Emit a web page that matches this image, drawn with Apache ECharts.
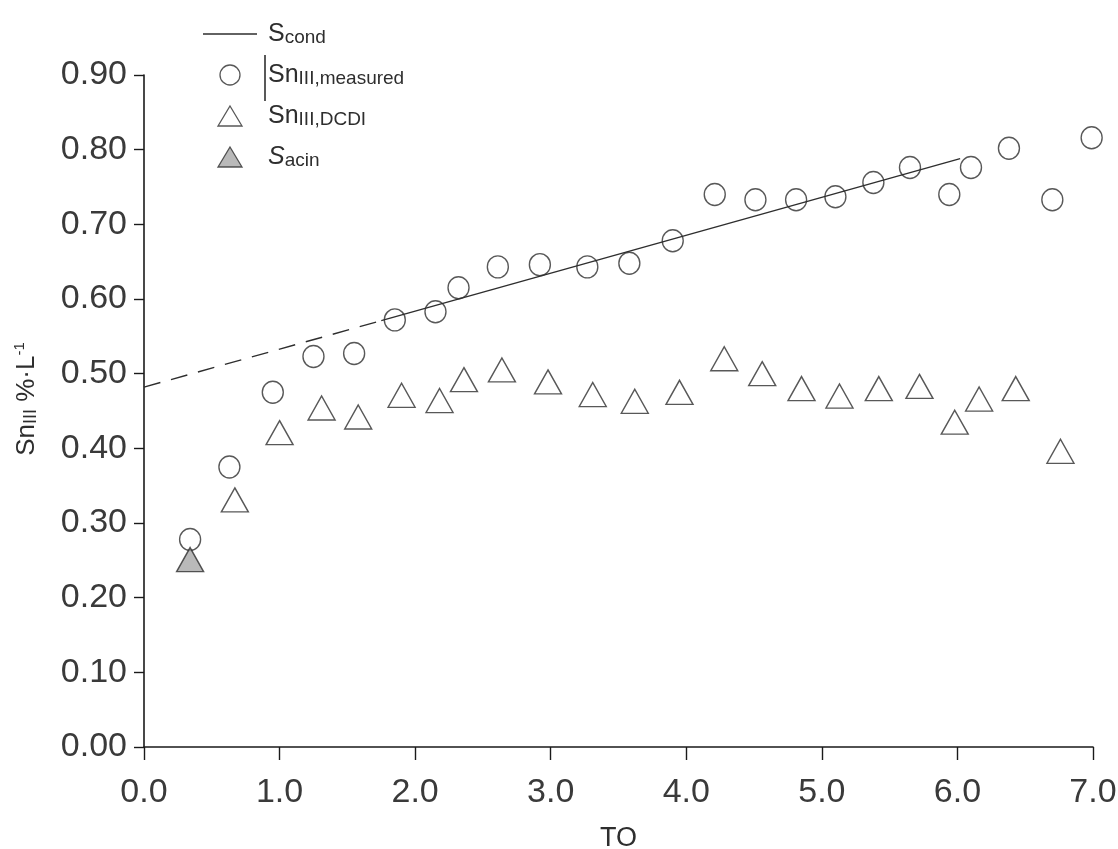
<!DOCTYPE html>
<html>
<head>
<meta charset="utf-8">
<script src="https://cdn.jsdelivr.net/npm/echarts@6/dist/echarts.min.js"></script>
<style>
html,body{margin:0;padding:0;background:#fff;}
#chart{width:1118px;height:849px;}
</style>
</head>
<body>
<div id="chart"></div>
<script>
// ---- data ----
const measuredX = [0.34,0.63,0.95,1.25,1.55,1.85,2.15,2.32,2.61,2.92,3.27,3.58,3.90,4.21,4.51,4.81,5.10,5.38,5.65,5.94,6.10,6.38,6.70,6.99];
const measuredY = [0.278,0.375,0.475,0.523,0.527,0.572,0.583,0.615,0.643,0.646,0.643,0.648,0.678,0.740,0.733,0.733,0.737,0.756,0.776,0.740,0.776,0.802,0.733,0.816];
const dcdiX = [0.67,1.00,1.31,1.58,1.90,2.18,2.36,2.64,2.98,3.31,3.62,3.95,4.28,4.56,4.85,5.13,5.42,5.72,5.98,6.16,6.43,6.76];
const dcdiY = [0.331,0.421,0.454,0.442,0.471,0.464,0.492,0.505,0.489,0.472,0.463,0.475,0.520,0.500,0.480,0.470,0.480,0.483,0.435,0.466,0.480,0.396];
const acinX = [0.34];
const acinY = [0.251];
const condX = [1.75, 6.02];
const condY = [0.571, 0.788];
const condExtX = [0.0, 1.75];
const condExtY = [0.482, 0.571];
const xTickLabels = ['0.0','1.0','2.0','3.0','4.0','5.0','6.0','7.0'];
const yTickLabels = ['0.00','0.10','0.20','0.30','0.40','0.50','0.60','0.70','0.80','0.90'];

const pair = (xs, ys) => xs.map((x, i) => [x, ys[i]]);
const FONT = "'Liberation Sans', Arial, Helvetica, sans-serif";
const INK = '#2e2e2e';

const legendNames = {
  'Scond': '{b|S}{s|cond}',
  'SnIII,measured': '{b|Sn}{s|III,measured}',
  'SnIII,DCDI': '{b|Sn}{s|III,DCDI}',
  'Sacin': '{i|S}{s|acin}'
};
const TRI_ICON = 'path://M12,0L24,20L0,20Z';

const chart = echarts.init(document.getElementById('chart'), null, {renderer: 'canvas'});
chart.setOption({
  backgroundColor: '#ffffff',
  animation: false,
  textStyle: {fontFamily: FONT},
  grid: {left: 144, right: 25, top: 75, bottom: 102, containLabel: false, outerBoundsMode: 'none'},
  legend: {
    left: 198, top: 17, orient: 'vertical',
    itemWidth: 54, itemHeight: 20, itemGap: 16,
    selectedMode: false,
    symbolKeepAspect: true,
    data: [
      {name: 'Scond', icon: 'path://M0,0L54,0L54,1.5L0,1.5Z'},
      {name: 'SnIII,measured', icon: 'circle'},
      {name: 'SnIII,DCDI', icon: TRI_ICON},
      {name: 'Sacin', icon: TRI_ICON}
    ],
    itemStyle: {borderWidth: 1.3},
    formatter: n => legendNames[n],
    textStyle: {
      fontFamily: FONT, color: INK,
      rich: {
        b: {fontSize: 25, color: INK, fontFamily: FONT, verticalAlign: 'bottom', lineHeight: 26, padding: [0,0,0,6]},
        i: {fontSize: 25, color: INK, fontFamily: FONT, fontStyle: 'italic', verticalAlign: 'bottom', lineHeight: 26, padding: [0,0,0,6]},
        s: {fontSize: 19, color: INK, fontFamily: FONT, verticalAlign: 'bottom', lineHeight: 26}
      }
    }
  },
  xAxis: {
    type: 'value', min: 0, max: 7, interval: 1,
    name: 'TO', nameLocation: 'middle', nameGap: 78,
    nameTextStyle: {fontSize: 27, color: INK, fontFamily: FONT},
    axisLine: {show: true, lineStyle: {color: '#1a1a1a', width: 1.6}},
    axisTick: {show: true, inside: false, length: 13, lineStyle: {color: '#1a1a1a', width: 1.4}},
    axisLabel: {fontSize: 34, color: '#3a3a3a', margin: 29, fontFamily: FONT,
      formatter: v => xTickLabels[Math.round(v)]},
    splitLine: {show: false}
  },
  yAxis: {
    type: 'value', min: 0, max: 0.9, interval: 0.1,
    name: '{a|Sn}{b|III}{a| %·L}{c|-1}', nameLocation: 'middle', nameGap: 104, nameRotate: 90,
    nameTextStyle: {
      color: INK, fontFamily: FONT, padding: [0, 0, 0, 24],
      rich: {
        a: {fontSize: 26, color: INK, fontFamily: FONT, verticalAlign: 'bottom', lineHeight: 28},
        b: {fontSize: 18, color: INK, fontFamily: FONT, verticalAlign: 'bottom', lineHeight: 28},
        c: {fontSize: 15, color: INK, fontFamily: FONT, verticalAlign: 'top', lineHeight: 28}
      }
    },
    axisLine: {show: true, lineStyle: {color: '#1a1a1a', width: 1.6}},
    axisTick: {show: true, inside: false, length: 10, lineStyle: {color: '#1a1a1a', width: 1.4}},
    axisLabel: {fontSize: 34, color: '#3a3a3a', margin: 17, fontFamily: FONT,
      formatter: v => yTickLabels[Math.round(v * 10)]},
    splitLine: {show: false}
  },
  series: [
    {
      name: 'Scond_ext', type: 'line', data: pair(condExtX, condExtY),
      symbol: 'none', silent: true,
      lineStyle: {color: INK, width: 1.4, type: [17, 11]}
    },
    {
      name: 'Scond', type: 'line', data: pair(condX, condY),
      symbol: 'none', silent: true,
      lineStyle: {color: INK, width: 1.4, type: 'solid'},
      itemStyle: {color: INK}
    },
    {
      name: 'SnIII,measured', type: 'scatter', data: pair(measuredX, measuredY),
      symbol: 'circle', symbolSize: [21, 22],
      itemStyle: {color: 'rgba(255,255,255,0)', borderColor: INK, borderWidth: 1.4}
    },
    {
      name: 'SnIII,DCDI', type: 'scatter', data: pair(dcdiX, dcdiY),
      symbol: 'triangle', symbolSize: [27, 24],
      itemStyle: {color: 'rgba(255,255,255,0)', borderColor: INK, borderWidth: 1.4}
    },
    {
      name: 'Sacin', type: 'scatter', data: pair(acinX, acinY),
      symbol: 'triangle', symbolSize: [27, 24],
      itemStyle: {color: '#a8a8a8', borderColor: INK, borderWidth: 1.4}
    }
  ],
  graphic: [
    {type: 'line', shape: {x1: 265, y1: 55, x2: 265, y2: 101}, style: {stroke: '#222', lineWidth: 1.5}, silent: true}
  ]
});
</script>
</body>
</html>
